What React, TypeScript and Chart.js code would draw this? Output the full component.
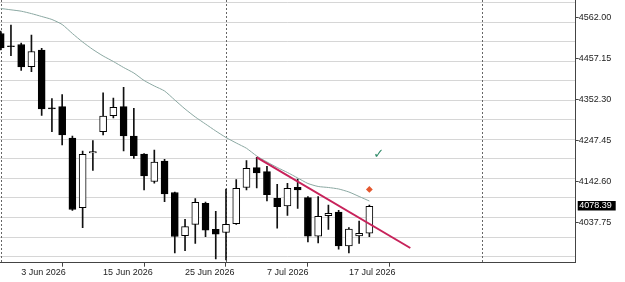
import React, { useEffect, useRef } from 'react';
import { Chart, registerables } from 'chart.js';

Chart.register(...registerables);

// ---- data ----
const opens = [4521.5, 4490, 4493.3, 4436.4, 4479.2, 4331, 4334.0, 4253.8, 4075.2, 4215.3, 4269.9, 4310.9, 4334.0, 4258.9, 4212.8, 4142.3, 4194.8, 4114.1, 4003.4, 4032.6, 4086.4, 4019.8, 4011.6, 4034.2, 4126.9, 4177.7, 4167.4, 4099.3, 4079.5, 4127.4, 4100.8, 4001.9, 4054.7, 4064.1, 3977.5, 4002.7, 4009.6];
const highs = [4527.9, 4543.3, 4497.2, 4517.7, 4483.6, 4355.0, 4365.2, 4258.9, 4220.4, 4247.4, 4369.8, 4356.2, 4383.7, 4329.9, 4214.0, 4223.0, 4199.2, 4115.4, 4045.4, 4098.7, 4089.8, 4065.9, 4123.1, 4147.4, 4196.1, 4204.3, 4181.2, 4135.1, 4137.7, 4148.7, 4103.4, 4103.4, 4082.1, 4068.5, 4023.9, 4041.1, 4082.1];
const lows = [4479.2, 4464.6, 4426.7, 4423.6, 4311.4, 4269.9, 4235.8, 4068.0, 4023.9, 4170.5, 4261.4, 4305.0, 4220.4, 4201.7, 4120.5, 4137.7, 4090.5, 3959.1, 3965.0, 3983.9, 4000.9, 3943.7, 3941.2, 4032.1, 4120.5, 4125.6, 4092.3, 4022.4, 4055.2, 4073.6, 3987.3, 3984.7, 4019.3, 3968.6, 3959.1, 3983.9, 4000.9];
const closes = [4484.4, 4487.5, 4435.7, 4475.4, 4328.1, 4328.5, 4261.4, 4070.6, 4212.0, 4219.2, 4310.1, 4332.4, 4258.9, 4208.4, 4156.4, 4192.3, 4110.3, 4001.4, 4026.5, 4089.0, 4017.3, 4007.0, 4032.6, 4124.9, 4176.1, 4164.1, 4108.5, 4077.7, 4124.9, 4120.5, 4001.9, 4053.1, 4060.8, 3977.0, 4020.6, 4009.6, 4078.39];
const movingAvg = [4585.6, 4582.2, 4578.7, 4572.5, 4565.1, 4557.4, 4544.6, 4521.5, 4499.7, 4480.5, 4463.9, 4449.8, 4434.4, 4420.3, 4401.1, 4387.0, 4374.2, 4351.1, 4328.1, 4307.6, 4289.6, 4271.7, 4255.0, 4240.9, 4227.4, 4207.6, 4192.3, 4178.2, 4165.4, 4151.3, 4137.2, 4129.5, 4126.9, 4123.1, 4115.4, 4103.9, 4092.3];

const xTickIndex = [2, 10, 18, 26, 34];
const xTickLabels = ['3 Jun 2026', '15 Jun 2026', '25 Jun 2026', '7 Jul 2026', '17 Jul 2026'];
const priceLevels = [4037.75, 4142.6, 4247.45, 4352.3, 4457.15, 4562.0];
const gridLevels = [3950, 4000, 4050, 4100, 4150, 4200, 4250, 4300, 4350, 4400, 4450, 4500, 4550, 4600];
const separatorIndex = [0, 22, 47];
const trendIndex = [25, 40];
const trendValues = [4204.3, 3971.9];
const markerIndex = [36];
const markerValues = [4122];
const checkIndex = [36.9];
const checkValues = [4210];
const currentPrice = 4078.39;

const X_MIN = -0.07;
const X_MAX = 56.15;
const Y_MIN = 3934.2;
const Y_MAX = 4607.35;

const FONT = '"Liberation Sans", Arial, sans-serif';

export default function App() {
  const ref = useRef<HTMLCanvasElement | null>(null);

  useEffect(() => {
    document.body.style.margin = '0';
    const canvas = ref.current;
    if (!canvas) return;

    const bodies = opens.map((o, i) => ({ x: i, y: [Math.min(o, closes[i]), Math.max(o, closes[i])] }));
    const bodyColors = opens.map((o, i) => (closes[i] > o ? '#ffffff' : '#000000'));
    const wicks = lows.map((l, i) => ({ x: i, y: [l, highs[i]] }));
    const ma = movingAvg.map((v, i) => ({ x: i, y: v }));
    const trend = trendIndex.map((x, i) => ({ x, y: trendValues[i] }));
    const markers = markerIndex.map((x, i) => ({ x, y: markerValues[i] }));

    const overlay = {
      id: 'overlay',
      beforeDatasetsDraw(chart: any) {
        const { ctx, chartArea } = chart;
        const xs = chart.scales.x;
        ctx.save();
        ctx.strokeStyle = '#666';
        ctx.lineWidth = 1;
        ctx.setLineDash([2, 2]);
        separatorIndex.forEach((idx) => {
          const px = Math.round(xs.getPixelForValue(idx)) + 0.5;
          if (px < chartArea.left || px > chartArea.right) return;
          ctx.beginPath();
          ctx.moveTo(px, chartArea.top);
          ctx.lineTo(px, chartArea.bottom);
          ctx.stroke();
        });
        ctx.restore();
      },
      afterDraw(chart: any) {
        const { ctx, chartArea } = chart;
        const xs = chart.scales.x;
        const ys = chart.scales.y;
        ctx.save();
        // current price label
        const py = ys.getPixelForValue(currentPrice);
        ctx.fillStyle = '#000';
        ctx.fillRect(chartArea.right + 2, Math.round(py) - 5, 38, 9.5);
        ctx.fillStyle = '#fff';
        ctx.font = '9px ' + FONT;
        ctx.textBaseline = 'middle';
        ctx.textAlign = 'left';
        ctx.fillText(currentPrice.toFixed(2), chartArea.right + 3.5, Math.round(py));
        // check marks
        ctx.fillStyle = '#2f8a68';
        ctx.font = 'bold 13px "DejaVu Sans", sans-serif';
        ctx.textAlign = 'center';
        checkIndex.forEach((ci, k) => {
          ctx.fillText('\u2713', xs.getPixelForValue(ci), ys.getPixelForValue(checkValues[k]));
        });
        ctx.restore();
      },
    };

    const chart = new Chart(canvas, {
      type: 'bar',
      data: {
        datasets: [
          {
            type: 'line',
            data: markers,
            showLine: false,
            pointStyle: 'rectRot',
            pointRadius: 3.4,
            pointBackgroundColor: '#e4572e',
            pointBorderColor: '#e4572e',
            borderWidth: 0,
          } as any,
          {
            type: 'line',
            data: trend,
            borderColor: '#c7225a',
            borderWidth: 2,
            pointRadius: 0,
          } as any,
          {
            type: 'line',
            data: ma,
            borderColor: '#8ba8a2',
            borderWidth: 1,
            pointRadius: 0,
            tension: 0.2,
          } as any,
          {
            type: 'bar',
            data: bodies,
            backgroundColor: bodyColors,
            borderColor: '#000',
            borderWidth: 1,
            borderSkipped: false,
            barThickness: 7,
            grouped: false,
          } as any,
          {
            type: 'bar',
            data: wicks,
            backgroundColor: '#111',
            borderWidth: 0,
            barThickness: 1,
            grouped: false,
          } as any,
        ],
      },
      options: {
        animation: false,
        responsive: false,
        devicePixelRatio: 1,
        layout: { padding: 0, autoPadding: false },
        plugins: { legend: { display: false }, tooltip: { enabled: false } },
        scales: {
          x: {
            type: 'linear',
            min: X_MIN,
            max: X_MAX,
            offset: false,
            bounds: 'data',
            afterBuildTicks: (s: any) => {
              s.ticks = xTickIndex.map((v) => ({ value: v }));
            },
            afterFit: (s: any) => {
              s.height = 19.3;
              s.paddingLeft = 0;
              s.paddingRight = 0;
            },
            ticks: {
              autoSkip: false,
              maxRotation: 0,
              align: 'start',
              padding: 0,
              color: '#222',
              font: { family: FONT, size: 9 },
              callback: (v: any) => {
                const k = xTickIndex.indexOf(Number(v));
                return k >= 0 ? xTickLabels[k] : '';
              },
            },
            grid: { display: true, drawOnChartArea: false, drawTicks: true, tickLength: 4, color: '#444' },
            border: { display: true, color: '#444', width: 1 },
          },
          y: {
            type: 'linear',
            position: 'right',
            min: Y_MIN,
            max: Y_MAX,
            bounds: 'data',
            afterBuildTicks: (s: any) => {
              s.ticks = priceLevels.map((v) => ({ value: v }));
            },
            afterFit: (s: any) => {
              s.width = 49.3;
              s.paddingTop = 0;
              s.paddingBottom = 0;
            },
            ticks: {
              padding: 0,
              color: '#222',
              font: { family: FONT, size: 9 },
              callback: (v: any) => Number(v).toFixed(2),
            },
            grid: { display: true, drawOnChartArea: false, drawTicks: true, tickLength: 3, color: '#444' },
            border: { display: true, color: '#444', width: 1 },
          },
          yGrid: {
            type: 'linear',
            position: 'left',
            min: Y_MIN,
            max: Y_MAX,
            bounds: 'data',
            afterBuildTicks: (s: any) => {
              s.ticks = gridLevels.map((v) => ({ value: v }));
            },
            afterFit: (s: any) => {
              s.width = 0;
              s.paddingTop = 0;
              s.paddingBottom = 0;
            },
            ticks: { display: false },
            grid: { display: true, drawTicks: false, color: '#d6d6d6', lineWidth: 1 },
            border: { display: false },
          },
        },
      } as any,
      plugins: [overlay],
    });

    return () => chart.destroy();
  }, []);

  return <canvas ref={ref} width={625} height={282} style={{ display: 'block' }} />;
}
